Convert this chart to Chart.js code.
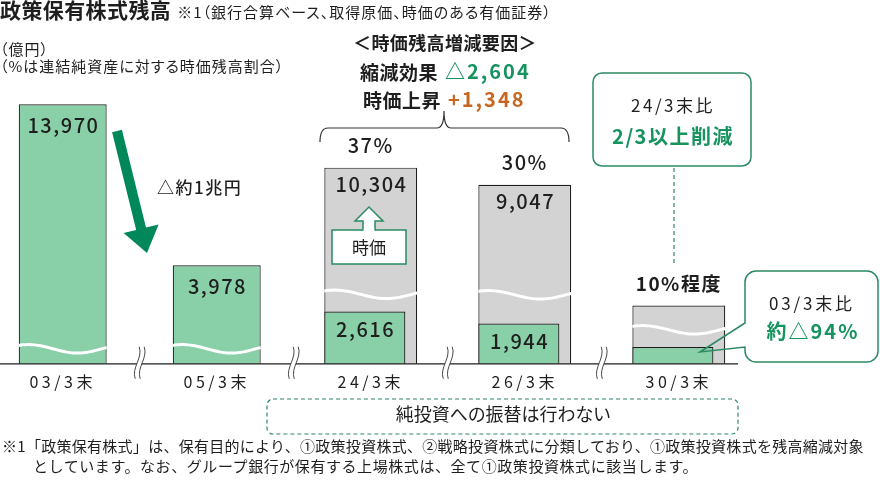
<!DOCTYPE html>
<html lang="ja">
<head>
<meta charset="utf-8">
<title>政策保有株式残高</title>
<script src="https://cdn.jsdelivr.net/npm/chart.js@4.4.1/dist/chart.umd.min.js"></script>
<style>
html,body{margin:0;padding:0;background:#fff;}
#wrap{position:relative;width:880px;height:480px;overflow:hidden;font-family:"Noto Sans CJK JP","Noto Sans",sans-serif;color:#1e1e1e;}
#chart{position:absolute;left:0;top:0;}
.t{position:absolute;white-space:nowrap;line-height:1;font-feature-settings:"palt";}
.n{font-feature-settings:normal;}
.c{transform:translate(-50%,-0.55em);}
.l{transform:translate(0,-0.55em);}
.g{color:#17935f;}
.o{color:#c8661f;}
</style>
</head>
<body>
<div id="wrap">
<canvas id="chart" width="880" height="480"></canvas>

<div class="t" style="left:0;top:-1px;"><span style="font-size:21px;font-weight:700;letter-spacing:0.4px;">政策保有株式残高</span><span style="font-size:15px;letter-spacing:1px;margin-left:6px;">※1（銀行合算ベース、取得原価、時価のある有価証券）</span></div>
<div class="t l" style="left:0;top:49px;font-size:15px;letter-spacing:1px;">（億円）</div>
<div class="t l" style="left:0;top:66px;font-size:15px;letter-spacing:1px;">（%は連結純資産に対する時価残高割合）</div>

<div class="t c" style="left:445px;top:43px;font-size:18px;font-weight:700;letter-spacing:0.4px;">＜時価残高増減要因＞</div>
<div class="t l" style="left:360px;top:72px;font-size:19px;font-weight:700;letter-spacing:0.5px;">縮減効果</div>
<div class="t l g" style="left:445px;top:72px;font-size:20px;font-weight:700;letter-spacing:2px;">△2,604</div>
<div class="t l" style="left:363px;top:100px;font-size:19px;font-weight:700;letter-spacing:0.5px;">時価上昇</div>
<div class="t l o" style="left:448px;top:100px;font-size:20px;font-weight:700;letter-spacing:2px;">+1,348</div>

<div class="t l" style="left:157px;top:187px;font-size:17px;font-weight:500;letter-spacing:1.5px;">△約1兆円</div>
<div class="t c" style="left:369px;top:247px;font-size:17px;">時価</div>

<div class="t c" style="left:673px;top:105px;font-size:17px;letter-spacing:2.5px;">24/3末比</div>
<div class="t c g" style="left:673px;top:137px;font-size:20px;font-weight:700;letter-spacing:1.5px;">2/3以上削減</div>

<div class="t c" style="left:812px;top:303px;font-size:17px;letter-spacing:2.8px;">03/3末比</div>
<div class="t c g" style="left:813px;top:332px;font-size:20px;font-weight:700;letter-spacing:2px;">約△94%</div>

<div class="t c" style="left:503px;top:414px;font-size:18px;">純投資への振替は行わない</div>

<div class="t l n" style="left:2px;top:446px;font-size:15px;letter-spacing:0.28px;">※1「政策保有株式」は、保有目的により、①政策投資株式、②戦略投資株式に分類しており、①政策投資株式を残高縮減対象</div>
<div class="t l n" style="left:33px;top:466px;font-size:15px;letter-spacing:0.57px;">としています。なお、グループ銀行が保有する上場株式は、全て①政策投資株式に該当します。</div>
</div>

<script>
// ---------------- data ----------------
const categories  = ['03/3末', '05/3末', '24/3末', '26/3末', '30/3末'];
// 取得原価ベース残高 (03/3末, 05/3末)
const costEarly   = [13970, 3978, null, null, null];
// 時価ベース残高
const marketValue = [null, null, 10304, 9047, 2900];
// 取得原価ベース残高 (24/3末以降)
const costLater   = [null, null, 2616, 1944, 840];
// 連結純資産に対する時価残高割合
const ratioLabels = [null, null, '37%', '30%', '10%程度'];
// values printed on the bars (30/3末 is a target, not printed)
const printedValue = [true, true, true, true, false];

// ---------------- styles ----------------
const GREEN_FILL = '#89d0a8';
const GREY_FILL  = '#d3d3d3';
const EDGE       = '#1e1e1e';
const DEEP_GREEN = '#00885a';
const LINE_GREEN = '#2b8a63';
const FONT       = '"Noto Sans CJK JP", "Noto Sans", sans-serif';

// Broken (schematic) value axis: bars are cut by wavy lines, so the axis is
// piece-wise linear between break anchors [value, relative height].
class SchematicScale extends Chart.LinearScale {
  _anchors() { return this.options.anchors || [[0, 0], [1, 1]]; }
  _h(v) {
    const a = this._anchors();
    if (v <= a[0][0]) return a[0][1];
    for (let i = 1; i < a.length; i++) {
      if (v <= a[i][0]) {
        const [v0, h0] = a[i - 1], [v1, h1] = a[i];
        return h0 + (h1 - h0) * (v - v0) / (v1 - v0);
      }
    }
    const [v0, h0] = a[a.length - 2], [v1, h1] = a[a.length - 1];
    return h1 + (h1 - h0) * (v - v1) / (v1 - v0);
  }
  _v(h) {
    const a = this._anchors();
    for (let i = 1; i < a.length; i++) {
      if (h <= a[i][1]) {
        const [v0, h0] = a[i - 1], [v1, h1] = a[i];
        return v0 + (v1 - v0) * (h - h0) / (h1 - h0);
      }
    }
    return a[a.length - 1][0];
  }
  getPixelForValue(value) {
    if (value === null || value === undefined || isNaN(value)) return NaN;
    const lo = this._h(this.min), hi = this._h(this.max);
    return this.getPixelForDecimal((this._h(value) - lo) / (hi - lo));
  }
  getValueForPixel(pixel) {
    const lo = this._h(this.min), hi = this._h(this.max);
    return this._v(lo + this.getDecimalForPixel(pixel) * (hi - lo));
  }
}
SchematicScale.id = 'schematic';
SchematicScale.defaults = Chart.LinearScale.defaults;
Chart.register(SchematicScale);

// keep the later cost bar left-aligned inside the market-value bar
const alignPlugin = {
  id: 'alignCost',
  beforeDatasetsDraw(chart) {
    const later = chart.getDatasetMeta(1), market = chart.getDatasetMeta(2);
    later.data.forEach((el, i) => {
      const g = market.data[i];
      if (!g || costLater[i] == null || marketValue[i] == null) return;
      el.x = g.x - g.width / 2 + el.width / 2;
    });
  }
};

function fmt(v) { return v.toLocaleString('en-US'); }

const marksPlugin = {
  id: 'marks',
  beforeDraw(chart) { chart.ctx.letterSpacing = '3.5px'; },
  afterDatasetsDraw(chart, args, opts) {
    const ctx = chart.ctx;
    const x = chart.scales.x, y = chart.scales.y;
    const base = y.getPixelForValue(0);
    const metas = [chart.getDatasetMeta(0), chart.getDatasetMeta(1), chart.getDatasetMeta(2)];
    ctx.save();
    ctx.letterSpacing = '0px';
    // wavy cut lines
    categories.forEach((c, i) => {
      const el = (costEarly[i] != null) ? metas[0].data[i] : metas[2].data[i];
      if (!el) return;
      const l = el.x - el.width / 2, r = el.x + el.width / 2;
      const cy = base - opts.waveGap[i];
      ctx.beginPath();
      for (let k = 0; k <= 40; k++) {
        const t = k / 40;
        const yy = cy + 4.2 * Math.sin(2 * Math.PI * (0.9 * t - 0.35));
        if (k === 0) ctx.moveTo(l, yy); else ctx.lineTo(l + (r - l) * t, yy);
      }
      ctx.strokeStyle = '#ffffff';
      ctx.lineWidth = 3;
      ctx.stroke();
    });
    // baseline
    ctx.beginPath();
    ctx.moveTo(0, base); ctx.lineTo(738, base);
    ctx.strokeStyle = EDGE; ctx.lineWidth = 1.3; ctx.stroke();
    // axis break marks between categories
    for (let i = 0; i < categories.length - 1; i++) {
      const mx = (x.getPixelForTick(i) + x.getPixelForTick(i + 1)) / 2;
      const top = base - 17, bot = base + 15, h = bot - top;
      const lx = mx - 2.5, rx = mx + 2.5;
      ctx.beginPath();
      ctx.moveTo(lx + 2, top);
      ctx.bezierCurveTo(lx + 6, top + h * 0.35, lx - 6, top + h * 0.65, lx - 2, bot);
      ctx.lineTo(rx - 2, bot);
      ctx.bezierCurveTo(rx - 6, top + h * 0.65, rx + 6, top + h * 0.35, rx + 2, top);
      ctx.closePath();
      ctx.fillStyle = '#fff'; ctx.fill();
      ctx.strokeStyle = '#333'; ctx.lineWidth = 0.9;
      [lx, rx].forEach(sx => {
        ctx.beginPath();
        ctx.moveTo(sx + 2, top);
        ctx.bezierCurveTo(sx + 6, top + h * 0.35, sx - 6, top + h * 0.65, sx - 2, bot);
        ctx.stroke();
      });
    }
    // value labels
    ctx.fillStyle = EDGE;
    ctx.textAlign = 'center';
    ctx.textBaseline = 'middle';
    ctx.font = '500 20px ' + FONT;
    ctx.letterSpacing = '1.5px';
    const sets = [[costEarly, 0, 21], [costLater, 1, 18], [marketValue, 2, 17]];
    sets.forEach(([arr, di, off]) => {
      arr.forEach((v, i) => {
        if (v == null || !printedValue[i]) return;
        const el = metas[di].data[i];
        ctx.fillText(fmt(v), el.x + 0.75, el.y + off);
      });
    });
    // ratio labels above bars
    ctx.letterSpacing = '1.5px';
    ratioLabels.forEach((lab, i) => {
      if (!lab) return;
      const el = metas[2].data[i];
      ctx.font = (i === 4 ? '700 19px ' : '500 20px ') + FONT;
      ctx.fillText(lab, el.x, el.y - 22);
    });
    ctx.restore();
  },
  afterDraw(chart) {
    const ctx = chart.ctx;
    ctx.letterSpacing = '0px';
    ctx.save();
    // big down arrow 03/3 -> 05/3
    ctx.beginPath();
    ctx.moveTo(112.1, 132.2); ctx.lineTo(121.9, 129.8);
    ctx.lineTo(146.0, 227.5); ctx.lineTo(158.6, 224.4);
    ctx.lineTo(147.0, 253.0);
    ctx.lineTo(123.6, 233.0); ctx.lineTo(136.2, 229.9);
    ctx.closePath();
    ctx.fillStyle = DEEP_GREEN; ctx.fill();

    // curly bracket over 24/3 - 26/3
    ctx.beginPath();
    ctx.moveTo(320, 142);
    ctx.quadraticCurveTo(320, 128, 328, 128);
    ctx.lineTo(437, 128);
    ctx.quadraticCurveTo(444, 128, 444, 111);
    ctx.quadraticCurveTo(444, 128, 451, 128);
    ctx.lineTo(561, 128);
    ctx.quadraticCurveTo(569, 128, 569, 142);
    ctx.strokeStyle = '#333'; ctx.lineWidth = 1.2; ctx.stroke();

    // hollow up arrow with 時価 box inside 24/3 bar
    ctx.lineWidth = 1.5; ctx.strokeStyle = LINE_GREEN; ctx.fillStyle = '#fff';
    ctx.beginPath(); ctx.rect(332, 230, 74, 34); ctx.fill(); ctx.stroke();
    ctx.beginPath();
    ctx.moveTo(363, 230.5); ctx.lineTo(363, 221); ctx.lineTo(355, 221);
    ctx.lineTo(369, 207); ctx.lineTo(383, 221); ctx.lineTo(375, 221); ctx.lineTo(375, 230.5);
    ctx.fill(); ctx.stroke();
    ctx.beginPath(); ctx.moveTo(363.8, 230); ctx.lineTo(374.2, 230);
    ctx.strokeStyle = '#fff'; ctx.lineWidth = 2; ctx.stroke();

    // callout 24/3末比
    ctx.beginPath(); ctx.roundRect(593, 73, 158, 93, 9);
    ctx.fillStyle = '#fff'; ctx.fill();
    ctx.strokeStyle = LINE_GREEN; ctx.lineWidth = 1.5; ctx.stroke();
    // dashed connector
    ctx.beginPath(); ctx.setLineDash([4, 3]);
    ctx.moveTo(674, 168); ctx.lineTo(674, 265);
    ctx.lineWidth = 1.2; ctx.stroke();
    // dashed box bottom
    ctx.beginPath(); ctx.roundRect(267, 399, 471, 35, 6); ctx.stroke();
    ctx.setLineDash([]);

    // callout 03/3末比 with pointer
    const x0 = 745, y0 = 271, x1 = 878, y1 = 362, r = 11;
    ctx.beginPath(); ctx.roundRect(x0, y0, x1 - x0, y1 - y0, r);
    ctx.fillStyle = '#fff'; ctx.fill();
    ctx.beginPath();
    ctx.moveTo(x0 + r, y0); ctx.lineTo(x1 - r, y0);
    ctx.arcTo(x1, y0, x1, y0 + r, r); ctx.lineTo(x1, y1 - r);
    ctx.arcTo(x1, y1, x1 - r, y1, r); ctx.lineTo(x0 + r, y1);
    ctx.arcTo(x0, y1, x0, y1 - r, r); ctx.lineTo(x0, 347);
    ctx.lineTo(700, 352); ctx.lineTo(x0, 323);
    ctx.lineTo(x0, y0 + r); ctx.arcTo(x0, y0, x0 + r, y0, r);
    ctx.closePath();
    ctx.strokeStyle = LINE_GREEN; ctx.lineWidth = 1.5; ctx.stroke();
    ctx.restore();
  }
};

new Chart(document.getElementById('chart'), {
  type: 'bar',
  data: {
    labels: categories,
    datasets: [
      { label: '取得原価', data: costEarly, backgroundColor: GREEN_FILL, borderColor: EDGE,
        borderWidth: 1.2, borderSkipped: 'start', grouped: false, categoryPercentage: 1,
        barPercentage: 0.571, order: 1, clip: false },
      { label: '取得原価（24/3末以降）', data: costLater, backgroundColor: GREEN_FILL, borderColor: EDGE,
        borderWidth: 1.2, borderSkipped: 'start', grouped: false, categoryPercentage: 1,
        barPercentage: 0.526, order: 1, clip: false },
      { label: '時価', data: marketValue, backgroundColor: GREY_FILL, borderColor: EDGE,
        borderWidth: 1.2, borderSkipped: 'start', grouped: false, categoryPercentage: 1,
        barPercentage: 0.603, order: 2, clip: false }
    ]
  },
  options: {
    responsive: false,
    animation: false,
    events: [],
    layout: { padding: { left: 62.7, right: 201.2, top: 62, bottom: 79 } },
    plugins: {
      legend: { display: false },
      tooltip: { enabled: false },
      marks: { waveGap: [15, 15, 69.5, 69, 34] }
    },
    scales: {
      x: {
        type: 'category', offset: false,
        grid: { display: false, drawTicks: false },
        border: { display: false },
        ticks: { color: EDGE, font: { family: FONT, size: 16 }, padding: 9, maxRotation: 0, autoSkip: false }
      },
      y: {
        type: 'schematic', display: false, min: 0, max: 16250,
        anchors: [[0, 0], [840, 16.6], [1944, 40], [2616, 52], [2900, 58], [3978, 98],
                  [9047, 178], [10304, 195], [13970, 258], [16250, 300]]
      }
    }
  },
  plugins: [alignPlugin, marksPlugin]
});
</script>
</body>
</html>
